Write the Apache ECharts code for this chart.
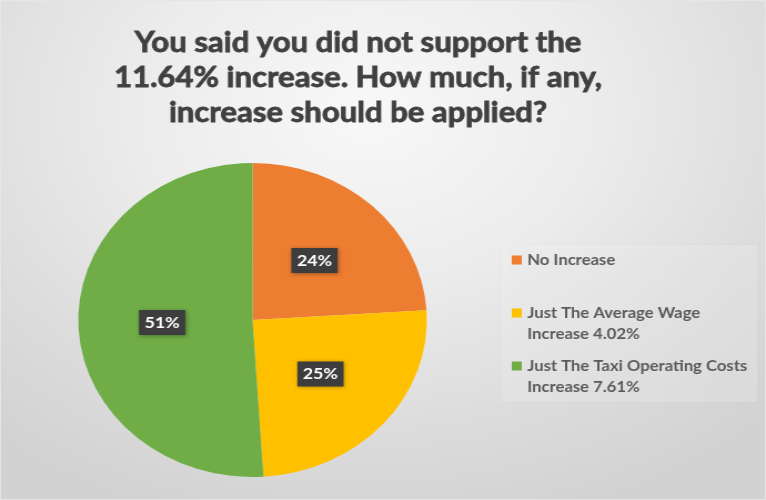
<!DOCTYPE html>
<html><head><meta charset="utf-8">
<script src="https://cdn.jsdelivr.net/npm/echarts@6/dist/echarts.min.js"></script>
<style>
html,body{margin:0;padding:0;width:766px;height:500px;overflow:hidden;}
#bg{position:absolute;left:0;top:0;width:764px;height:498px;border:1px solid #e6e6e6;
  background:radial-gradient(ellipse 75% 85% at 48% 22%, #f8f8f8 0%, #ececec 40%, #dcdcdc 75%, #d2d2d2 100%);}
#chart{position:absolute;left:0;top:0;width:690px;height:500px;transform:scaleX(1.1101);transform-origin:0 0;}
</style></head>
<body><div id="bg"></div><div id="chart"></div>
<script>
const titleLines = ['You said you did not support the', '11.64% increase. How much, if any,', 'increase should be applied?'];
const categories = ['No Increase', 'Just The Average Wage Increase 4.02%', 'Just The Taxi Operating Costs Increase 7.61%'];
const percentValues = [24, 25, 51];

const chart = echarts.init(document.getElementById('chart'));
const wrap = n => n.replace(/ (Increase \d)/, '\n$1');
const legendTops = [249.5, 281.5, 334.5];
chart.setOption({
  animation: false,
  backgroundColor: 'transparent',
  color: ['#ED7D31', '#FFC000', '#70AD47'],
  title: {
    text: titleLines.join('\n'),
    left: 322.5, top: 25, padding: 0, textAlign: 'center',
    textStyle: {fontFamily: 'Lato', fontWeight: 'bold', fontSize: 28, lineHeight: 35, color: '#404040',
      textBorderColor: '#404040', textBorderWidth: 0.8}
  },
  graphic: [{
    type: 'rect', z: -1, silent: true,
    shape: {x: 452, y: 245, width: 230, height: 157},
    style: {fill: 'rgba(255,255,255,0.22)', shadowBlur: 5, shadowColor: 'rgba(0,0,0,0.10)'}
  }],
  legend: categories.map((name, i) => ({
    data: [name], orient: 'vertical', left: 461, top: legendTops[i], padding: 0,
    icon: 'rect', itemWidth: 9, itemHeight: 9, itemGap: 0,
    formatter: n => (i ? ' \n' : '') + wrap(n),
    textStyle: {fontFamily: 'Lato', fontWeight: 'bold', fontSize: 15, color: '#5a5a5a', lineHeight: 21}
  })),
  series: [{
    type: 'pie',
    center: [227.5, 320], radius: 157,
    startAngle: 90, clockwise: true,
    emphasis: {scale: false},
    label: {
      position: 'inside',
      formatter: p => p.value + '%',
      fontFamily: 'Lato', fontWeight: 'bold', fontSize: 16, color: '#ffffff',
      backgroundColor: '#3d3d3d', padding: [5, 5, 4, 5],
      shadowColor: 'rgba(0,0,0,0.35)', shadowBlur: 4, shadowOffsetX: 1, shadowOffsetY: 1
    },
    labelLine: {show: false},
    data: categories.map((name, i) => ({name: name, value: percentValues[i]}))
  }]
});
</script>
</body></html>
